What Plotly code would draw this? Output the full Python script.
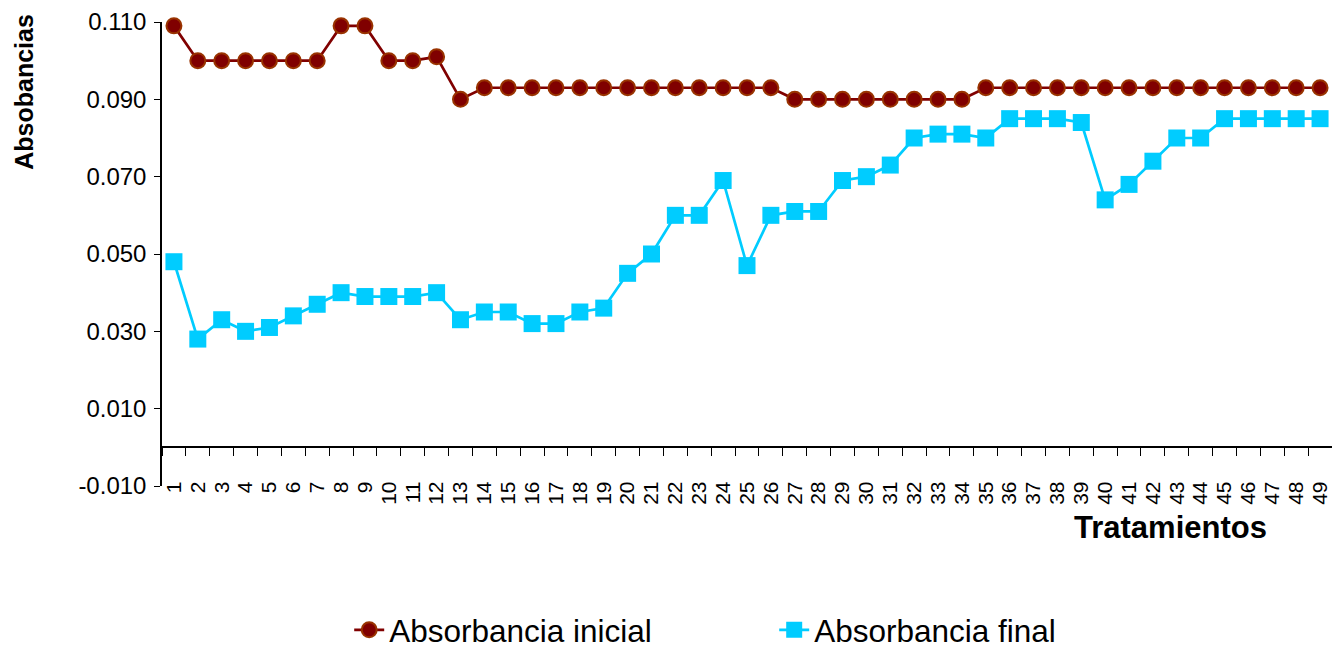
import plotly.graph_objects as go

# Tratamientos 1..49
tratamientos = [str(i) for i in range(1, 50)]

absorbancia_inicial = [
    0.109, 0.100, 0.100, 0.100, 0.100, 0.100, 0.100, 0.109, 0.109, 0.100,
    0.100, 0.101, 0.090, 0.093, 0.093, 0.093, 0.093, 0.093, 0.093, 0.093,
    0.093, 0.093, 0.093, 0.093, 0.093, 0.093, 0.090, 0.090, 0.090, 0.090,
    0.090, 0.090, 0.090, 0.090, 0.093, 0.093, 0.093, 0.093, 0.093, 0.093,
    0.093, 0.093, 0.093, 0.093, 0.093, 0.093, 0.093, 0.093, 0.093,
]

absorbancia_final = [
    0.048, 0.028, 0.033, 0.030, 0.031, 0.034, 0.037, 0.040, 0.039, 0.039,
    0.039, 0.040, 0.033, 0.035, 0.035, 0.032, 0.032, 0.035, 0.036, 0.045,
    0.050, 0.060, 0.060, 0.069, 0.047, 0.060, 0.061, 0.061, 0.069, 0.070,
    0.073, 0.080, 0.081, 0.081, 0.080, 0.085, 0.085, 0.085, 0.084, 0.064,
    0.068, 0.074, 0.080, 0.080, 0.085, 0.085, 0.085, 0.085, 0.085,
]

y_tick_values = [-0.010, 0.010, 0.030, 0.050, 0.070, 0.090, 0.110]
y_tick_labels = ["-0.010", "0.010", "0.030", "0.050", "0.070", "0.090", "0.110"]
y_min, y_max = -0.010, 0.110

FONT = "Liberation Sans, Arial, sans-serif"

fig = go.Figure()

fig.add_trace(go.Scatter(
    x=tratamientos, y=absorbancia_inicial,
    name="Absorbancia inicial",
    mode="lines+markers",
    line=dict(color="#800000", width=2.7),
    marker=dict(symbol="circle", size=15, color="#800000",
                line=dict(color="#993300", width=2)),
    cliponaxis=False,
))

fig.add_trace(go.Scatter(
    x=tratamientos, y=absorbancia_final,
    name="Absorbancia final",
    mode="lines+markers",
    line=dict(color="#00CCFF", width=2.7),
    marker=dict(symbol="square", size=17, color="#00CCFF",
                line=dict(color="#00CCFF", width=0)),
    cliponaxis=False,
))

# position of y = 0 inside the plotting area, where the category axis crosses
zero_frac = (0 - y_min) / (y_max - y_min)

fig.update_layout(
    width=1332, height=648,
    margin=dict(l=162, r=0, t=22, b=162, autoexpand=False),
    paper_bgcolor="white", plot_bgcolor="white",
    font=dict(family=FONT, color="black"),
    showlegend=True,
    legend=dict(
        orientation="h",
        x=0.16, xanchor="left",
        y=-0.31, yanchor="middle",
        font=dict(family=FONT, size=31.5, color="black"),
        entrywidth=380, entrywidthmode="pixels",
        bgcolor="rgba(0,0,0,0)",
    ),
    xaxis=dict(
        type="category",
        range=[-0.5, len(tratamientos) - 0.5],
        tickmode="linear", dtick=1,
        anchor="free", position=zero_frac,
        showline=True, linecolor="black", linewidth=1.5,
        ticks="outside", tickson="boundaries", ticklen=8,
        tickcolor="black", tickwidth=1,
        tickangle=-90, ticklabelstandoff=25,
        tickfont=dict(family=FONT, size=21, color="black"),
        showgrid=False, zeroline=False,
    ),
    yaxis=dict(
        range=[y_min, y_max],
        tickmode="array", tickvals=y_tick_values, ticktext=y_tick_labels,
        showline=True, linecolor="black", linewidth=1.5,
        ticks="outside", ticklen=6, tickcolor="black", tickwidth=1,
        ticklabelstandoff=3,
        tickfont=dict(family=FONT, size=24, color="black"),
        showgrid=False, zeroline=False,
    ),
    annotations=[
        dict(text="<b>Absobancias</b>", textangle=-90,
             xref="paper", yref="paper",
             x=-0.118, xanchor="center",
             y=1.022, yanchor="top",
             showarrow=False,
             font=dict(family=FONT, size=25, color="black")),
        dict(text="<b>Tratamientos</b>",
             xref="paper", yref="paper",
             x=0.862, xanchor="center",
             y=-0.0905, yanchor="middle",
             showarrow=False,
             font=dict(family=FONT, size=31, color="black")),
    ],
)

fig.write_html("out.html")
